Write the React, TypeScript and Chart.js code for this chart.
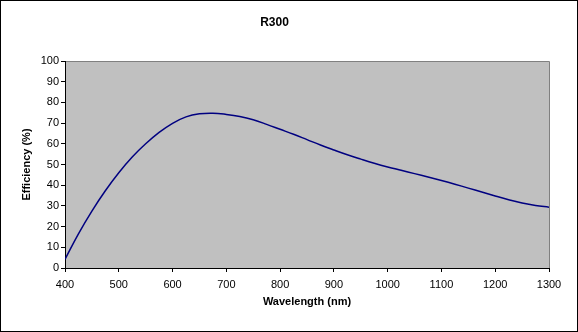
import React, { useEffect, useRef } from "react";
import { Chart, registerables } from "chart.js";

Chart.register(...registerables);

const chartTitle = "R300";
const xAxisTitle = "Wavelength (nm)";
const yAxisTitle = "Efficiency (%)";

const wavelengths = [
  400, 425, 450, 475, 500, 525, 550, 575, 600, 625, 650, 675, 700, 725, 750,
  775, 800, 825, 850, 875, 900, 925, 950, 975, 1000, 1025, 1050, 1075, 1100,
  1125, 1150, 1175, 1200, 1225, 1250, 1275, 1300,
];
const efficiency = [
  4.2, 16.5, 27.5, 37.3, 46.0, 53.6, 60.0, 65.5, 69.9, 73.0, 74.5, 74.8, 74.2,
  73.2, 71.6, 69.4, 67.0, 64.6, 62.0, 59.4, 57.0, 54.7, 52.6, 50.6, 48.8, 47.2,
  45.6, 44.0, 42.3, 40.5, 38.6, 36.7, 34.8, 33.0, 31.4, 30.2, 29.4,
];

const bgPlugin = {
  id: "bgPlugin",
  beforeDraw(chart: any) {
    const { ctx, chartArea, width, height } = chart;
    ctx.save();
    ctx.fillStyle = "#ffffff";
    ctx.fillRect(0, 0, width, height);
    ctx.fillStyle = "#c0c0c0";
    ctx.fillRect(chartArea.left, chartArea.top, chartArea.right - chartArea.left, chartArea.bottom - chartArea.top);
    ctx.strokeStyle = "#808080";
    ctx.lineWidth = 1;
    ctx.beginPath();
    ctx.moveTo(chartArea.left, Math.round(chartArea.top) + 0.5);
    ctx.lineTo(Math.round(chartArea.right) + 0.5, Math.round(chartArea.top) + 0.5);
    ctx.lineTo(Math.round(chartArea.right) + 0.5, chartArea.bottom);
    ctx.stroke();
    ctx.restore();
  },
  afterDraw(chart: any) {
    const { ctx, width, height } = chart;
    ctx.save();
    ctx.strokeStyle = "#000000";
    ctx.lineWidth = 1;
    ctx.strokeRect(0.5, 0.5, width - 1, height - 1);
    ctx.restore();
  },
};

export default function App() {
  const canvasRef = useRef<HTMLCanvasElement | null>(null);

  useEffect(() => {
    document.body.style.margin = "0";
    const canvas = canvasRef.current;
    if (!canvas) return;
    const font = "'Liberation Sans', Arial, sans-serif";
    const chart = new Chart(canvas, {
      type: "line",
      data: {
        datasets: [
          {
            label: chartTitle,
            data: wavelengths.map((w, i) => ({ x: w, y: efficiency[i] })),
            borderColor: "#000080",
            borderWidth: 1.5,
            pointRadius: 0,
            fill: false,
            tension: 0.4,
          },
        ],
      },
      options: {
        animation: false,
        responsive: false,
        maintainAspectRatio: false,
        layout: { padding: { left: 0, right: 29, top: 0, bottom: 0 } },
        plugins: {
          legend: { display: false },
          tooltip: { enabled: false },
          title: {
            display: true,
            text: chartTitle,
            color: "#000",
            font: { family: font, size: 12, weight: "bold" },
            padding: { top: 15, bottom: 31.6 },
          },
        },
        scales: {
          x: {
            type: "linear",
            min: 400,
            max: 1300,
            afterFit: (s: any) => {
              s.height = 64;
            },
            ticks: {
              stepSize: 100,
              color: "#000",
              font: { family: font, size: 11 },
              padding: 6,
              maxRotation: 0,
              callback: (v: any) => String(v),
            },
            grid: {
              drawOnChartArea: false,
              drawTicks: true,
              tickLength: 4,
              color: "#000",
            },
            border: { display: true, color: "#000", width: 1 },
            title: {
              display: true,
              text: xAxisTitle,
              color: "#000",
              font: { family: font, size: 11, weight: "bold" },
              padding: { top: 0, bottom: 23.4 },
            },
          },
          y: {
            type: "linear",
            min: 0,
            max: 100,
            afterFit: (s: any) => {
              s.width = 65;
            },
            ticks: {
              stepSize: 10,
              color: "#000",
              font: { family: font, size: 11 },
              padding: 2,
              callback: (v: any) => String(v),
            },
            grid: {
              drawOnChartArea: false,
              drawTicks: true,
              tickLength: 4,
              color: "#000",
            },
            border: { display: true, color: "#000", width: 1 },
            title: {
              display: true,
              text: yAxisTitle,
              color: "#000",
              font: { family: font, size: 11, weight: "bold" },
              padding: { top: 20.4, bottom: 0 },
            },
          },
        },
      },
      plugins: [bgPlugin],
    } as any);
    return () => chart.destroy();
  }, []);

  return (
    <div style={{ width: 578, height: 332 }}>
      <canvas ref={canvasRef} width={578} height={332} style={{ display: "block", width: 578, height: 332 }} />
    </div>
  );
}
